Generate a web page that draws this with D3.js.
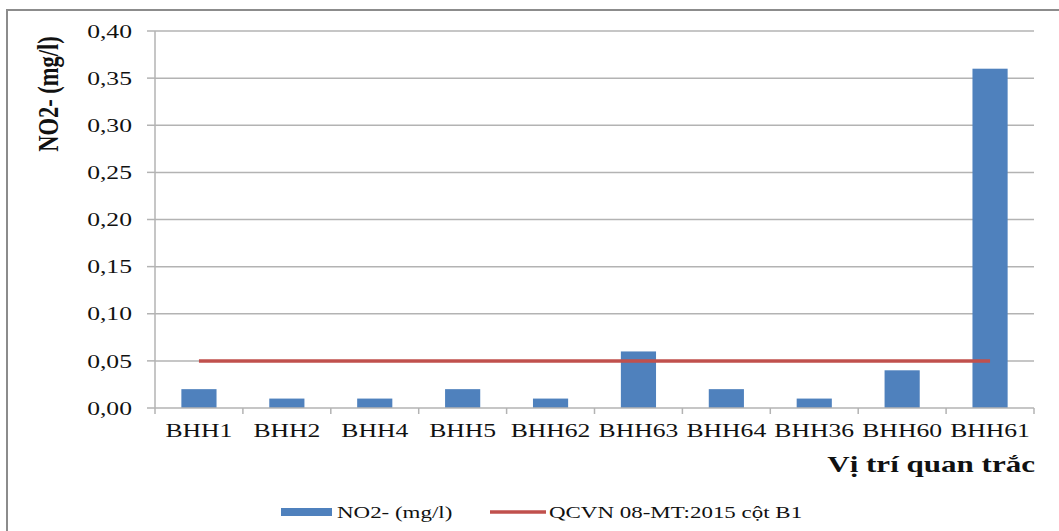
<!DOCTYPE html>
<html>
<head>
<meta charset="utf-8">
<script src="https://cdn.jsdelivr.net/npm/d3@7"></script>
<style>
  html, body { margin: 0; padding: 0; background: #fff; }
  svg { display: block; }
  text { font-family: "Liberation Serif", "Times New Roman", serif; fill: #111; }
</style>
</head>
<body>
<svg id="chart" width="1059" height="531"></svg>
<script>
// Monitoring stations and measured nitrite values (mg/l)
const stations = ["BHH1", "BHH2", "BHH4", "BHH5", "BHH62", "BHH63", "BHH64", "BHH36", "BHH60", "BHH61"];
const no2Values = [0.02, 0.01, 0.01, 0.02, 0.01, 0.06, 0.02, 0.01, 0.04, 0.36];
// Regulatory limit QCVN 08-MT:2015, column B1
const limitValue = 0.05;
const yTicks = [0, 0.05, 0.10, 0.15, 0.20, 0.25, 0.30, 0.35, 0.40];

const seriesName = "NO2- (mg/l)";
const limitName = "QCVN 08-MT:2015 cột B1";
const yTitle = "NO2- (mg/l)";
const xTitle = "Vị trí quan trắc";

const barColor = "#4f81bd";
const lineColor = "#c0504d";
const gridColor = "#b3b3b3";
const stretch = 1.35; // horizontal widening of the serif lettering

const svg = d3.select("#chart");

// outer frame
svg.append("rect")
  .attr("x", 7).attr("y", 10).attr("width", 1070).attr("height", 560)
  .attr("fill", "none").attr("stroke", "#8c8c8c").attr("stroke-width", 2);

const plot = { left: 155, right: 1034, top: 31, bottom: 408 };

const x = d3.scaleBand().domain(stations).range([plot.left, plot.right]).paddingInner(0.6).paddingOuter(0.3);
const xBand = d3.scaleBand().domain(stations).range([plot.left, plot.right]);
const y = d3.scaleLinear().domain([0, 0.40]).range([plot.bottom, plot.top]);

// horizontal gridlines
svg.append("g").selectAll("line").data(yTicks.slice(1)).join("line")
  .attr("x1", plot.left).attr("x2", plot.right)
  .attr("y1", d => y(d)).attr("y2", d => y(d))
  .attr("stroke", gridColor).attr("stroke-width", 1.5);

// y axis line and tick marks
svg.append("line").attr("x1", plot.left).attr("x2", plot.left)
  .attr("y1", plot.top).attr("y2", plot.bottom)
  .attr("stroke", gridColor).attr("stroke-width", 1.5);
svg.append("g").selectAll("line").data(yTicks).join("line")
  .attr("x1", plot.left - 8).attr("x2", plot.left)
  .attr("y1", d => y(d)).attr("y2", d => y(d))
  .attr("stroke", gridColor).attr("stroke-width", 1.5);

// y tick labels
const fmt = d => d3.format(".2f")(d).replace(".", ",");
svg.append("g").selectAll("text").data(yTicks).join("text")
  .attr("transform", d => `translate(132,${y(d)}) scale(${stretch},1)`)
  .attr("text-anchor", "end").attr("dy", "0.35em")
  .attr("font-size", 19)
  .text(fmt);

// bars
svg.append("g").selectAll("rect").data(stations).join("rect")
  .attr("x", d => x(d))
  .attr("width", x.bandwidth())
  .attr("y", (d, i) => y(no2Values[i]))
  .attr("height", (d, i) => y(0) - y(no2Values[i]))
  .attr("fill", barColor);

// x axis line and category tick marks
svg.append("line").attr("x1", plot.left).attr("x2", plot.right)
  .attr("y1", plot.bottom).attr("y2", plot.bottom)
  .attr("stroke", gridColor).attr("stroke-width", 1.5);
const boundaries = stations.map(s => xBand(s)).concat([plot.right]);
svg.append("g").selectAll("line").data(boundaries).join("line")
  .attr("x1", d => d).attr("x2", d => d)
  .attr("y1", plot.bottom).attr("y2", plot.bottom + 6)
  .attr("stroke", gridColor).attr("stroke-width", 1.5);

// category labels
svg.append("g").selectAll("text").data(stations).join("text")
  .attr("transform", d => `translate(${xBand(d) + xBand.bandwidth() / 2},437) scale(${stretch},1)`)
  .attr("text-anchor", "middle")
  .attr("font-size", 19)
  .text(d => d);

// limit line across category centres
const limitLine = d3.line()
  .x(d => xBand(d) + xBand.bandwidth() / 2)
  .y(() => y(limitValue));
svg.append("path").datum(stations)
  .attr("d", limitLine)
  .attr("fill", "none").attr("stroke", lineColor).attr("stroke-width", 3.5);

// axis titles
svg.append("text")
  .attr("transform", `translate(47,94) scale(${stretch},1) rotate(-90)`)
  .attr("text-anchor", "middle").attr("dy", "0.35em")
  .attr("font-size", 22.5).attr("font-weight", "bold")
  .text(yTitle);
svg.append("text")
  .attr("transform", `translate(1035,472) scale(${stretch},1)`)
  .attr("text-anchor", "end")
  .attr("font-size", 23).attr("font-weight", "bold")
  .text(xTitle);

// legend
const legend = svg.append("g");
legend.append("rect").attr("x", 281).attr("y", 508).attr("width", 51).attr("height", 8).attr("fill", barColor);
legend.append("text")
  .attr("transform", `translate(337,512) scale(${stretch},1)`)
  .attr("dy", "0.35em").attr("font-size", 17)
  .text(seriesName);
legend.append("line").attr("x1", 490).attr("x2", 546).attr("y1", 512).attr("y2", 512)
  .attr("stroke", lineColor).attr("stroke-width", 3.5);
legend.append("text")
  .attr("transform", `translate(549,512) scale(${stretch},1)`)
  .attr("dy", "0.35em").attr("font-size", 17)
  .text(limitName);
</script>
</body>
</html>
